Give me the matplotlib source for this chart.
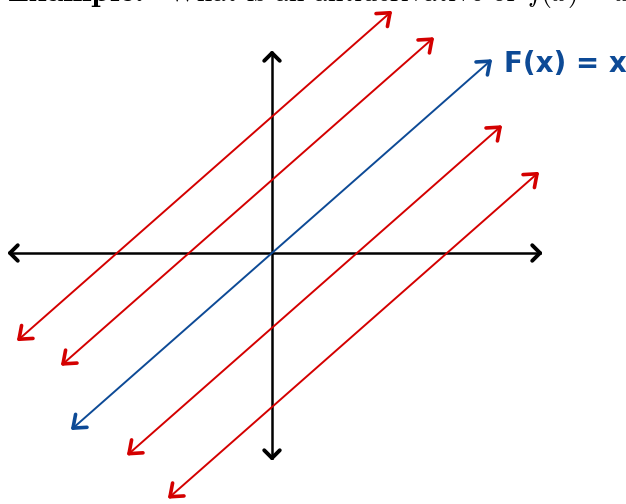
import numpy as np
import matplotlib
matplotlib.use("Agg")
import matplotlib.pyplot as plt

# ---- data (chart units: slope-1 family F(x) = x + C) ----
intercepts = [3.1, 1.66, 0.0, -1.7, -3.5]
x_starts = [-5.06, -4.18, -3.98, -2.86, -2.04]
x_ends = [2.36, 3.2, 4.36, 4.56, 5.3]
line_colors = ["#d40000", "#d40000", "#0d4a96", "#d40000", "#d40000"]
x_axis_range = [-5.24, 5.36]
y_axis_range = [-4.66, 4.545]
label_text = "F(x) = x"
heading_parts = ["Example:", "What is an antiderivative of", r"$f(x)$", "=", r"$x$"]

plt.rcParams["mathtext.fontset"] = "cm"

W, H = 626, 504
fig = plt.figure(figsize=(W / 100, H / 100), dpi=100)
ax = fig.add_axes([0, 0, 1, 1])
# pixel geometry -> data limits (origin at 272,253; 50 px per x unit, 44 px per y unit)
ox, oy, sx, sy = 272, 253, 50.0, 44.0
ax.set_xlim(-ox / sx, (W - ox) / sx)
ax.set_ylim(-(H - oy) / sy, oy / sy)
ax.axis("off")


def chevron(p_tip, p_back, color, lw, arm, ang):
    """draw open arrowhead at p_tip (data) pointing away from p_back, sized in pixels"""
    t = ax.transData.transform(p_tip)
    b = ax.transData.transform(p_back)
    d = b - t
    d = d / np.hypot(*d)
    inv = ax.transData.inverted()
    for s in (1, -1):
        a = np.deg2rad(ang) * s
        r = np.array([d[0] * np.cos(a) - d[1] * np.sin(a),
                      d[0] * np.sin(a) + d[1] * np.cos(a)])
        e = inv.transform(t + r * arm)
        ax.plot([p_tip[0], e[0]], [p_tip[1], e[1]], color=color, lw=lw,
                solid_capstyle="round", solid_joinstyle="round")


# axes
ax.plot(x_axis_range, [0, 0], color="black", lw=1.8)
ax.plot([0, 0], y_axis_range, color="black", lw=1.8)
chevron((x_axis_range[0], 0), (0, 0), "black", 2.8, 11, 45)
chevron((x_axis_range[1], 0), (0, 0), "black", 2.8, 11, 45)
chevron((0, y_axis_range[0]), (0, 0), "black", 2.8, 11, 45)
chevron((0, y_axis_range[1]), (0, 0), "black", 2.8, 11, 45)

# family of antiderivatives
for c, x0, x1, col in zip(intercepts, x_starts, x_ends, line_colors):
    xs = np.array([x0, x1])
    ys = xs + c
    ax.plot(xs, ys, color=col, lw=1.4, solid_capstyle="round")
    chevron((x0, x0 + c), (x1, x1 + c), col, 2.6, 14, 38)
    chevron((x1, x1 + c), (x0, x0 + c), col, 2.6, 14, 38)

# label of the blue line
ax.text((504 - ox) / sx, (oy - 64) / sy, label_text, color="#0d4a96",
        fontsize=20, fontweight="bold", family="DejaVu Sans", ha="left", va="center")

# clipped heading at the very top (only its lower edge shows)
starts = [8, 168, 527, 592, 614]
widths = [137, 347, None, None, None]
families = ["cmb10", "cmr10", "cmr10", "cmr10", "cmr10"]
base_y = 1 - 1.2 / H
renderer = fig.canvas.get_renderer()
fs_body = 18
for txt, x0, wdt, fam in zip(heading_parts, starts, widths, families):
    t = fig.text(x0 / W, base_y, txt, fontsize=18, family=fam,
                 ha="left", va="baseline", color="black")
    if wdt is not None:
        w = t.get_window_extent(renderer).width
        fs = 18 * wdt / w
        t.set_fontsize(fs)
        if fam == "cmr10":
            fs_body = fs
    else:
        t.set_fontsize(fs_body)

fig.savefig("out.png", dpi=100)
